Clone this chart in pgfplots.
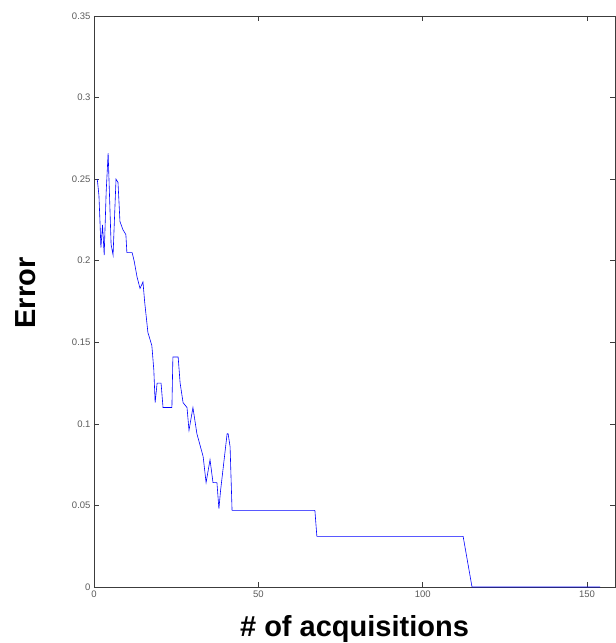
\documentclass[border=0pt]{standalone}
\usepackage{pgfplots}
\pgfplotsset{compat=1.18}
\usepackage{fontspec}
\setmainfont{Liberation Sans}
\definecolor{axgray}{RGB}{60,60,60}
\definecolor{tickgray}{RGB}{90,90,90}
\begin{document}
\begin{tikzpicture}
\begin{axis}[
  at={(0,0)}, anchor=south west,
  scale only axis,
  width=521pt, height=571pt,
  xmin=0, xmax=158.5, ymin=0, ymax=0.35,
  xtick={0,50,100,150},
  ytick={0,0.05,0.1,0.15,0.2,0.25,0.3,0.35},
  scaled y ticks=false,
  yticklabel style={/pgf/number format/fixed,/pgf/number format/precision=2},
  /pgf/number format/assume math mode=true,
  ticklabel style={font=\fontsize{9.5}{10}\selectfont, text=tickgray},
  tick align=inside,
  major tick length=5pt,
  tick style={axgray, line width=0.5pt},
  axis line style={axgray, line width=0.8pt},
  xtick pos=both, ytick pos=both,
  xlabel={\bfseries\fontsize{29}{32}\selectfont \# of acquisitions},
  ylabel={\bfseries\fontsize{29}{32}\selectfont Error},
  xlabel style={at={(axis description cs:0.5,0)}, anchor=base, yshift=-49pt},
  ylabel style={at={(axis description cs:-0.1305,0.515)}, anchor=center},
]
\addplot[blue, line width=0.6pt] coordinates {
(1,0.250) (1.5,0.240) (1.8,0.225) (2.1,0.208) (2.6,0.222) (3.1,0.2035)
(3.7,0.242) (4.3,0.266) (4.8,0.235) (5.2,0.210) (5.8,0.2035) (6.7,0.250)
(7.3,0.248) (7.9,0.224) (8.8,0.219) (9.7,0.216) (10.0,0.205) (11.6,0.205)
(12.2,0.200) (13.1,0.190) (14.0,0.183) (14.9,0.187) (15.4,0.175) (16.4,0.156)
(17.6,0.148) (18.2,0.133) (18.6,0.113) (19.2,0.125) (20.4,0.125) (21,0.110)
(23.7,0.110) (24,0.141) (25.6,0.141) (26.2,0.125) (27.1,0.113) (28.3,0.110)
(28.9,0.096) (30.1,0.110) (31.3,0.094) (33.2,0.080) (34.1,0.064) (35.3,0.078)
(36.2,0.064) (37.4,0.064) (38,0.048) (38.5,0.059) (40.5,0.094) (40.8,0.094)
(41.4,0.086) (42,0.047) (67.2,0.047) (67.8,0.031) (112.3,0.031) (115,0)
(154,0)
};
\end{axis}
\pgfresetboundingbox
\path (-94pt,-56pt) rectangle (522pt,587pt);
\end{tikzpicture}
\end{document}
